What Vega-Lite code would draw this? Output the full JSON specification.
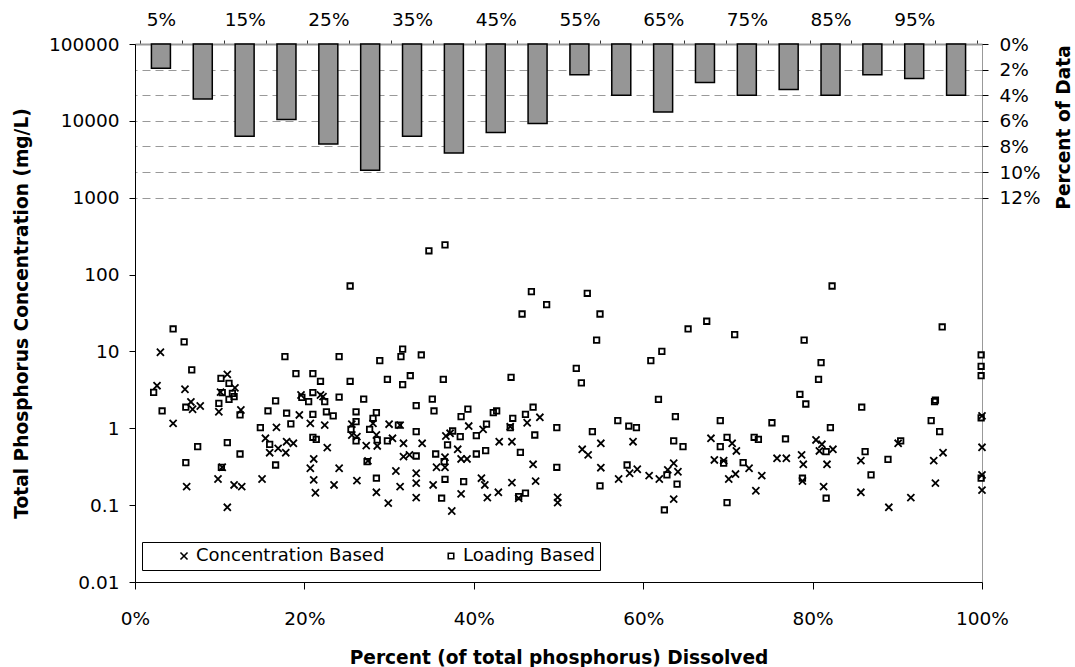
{
  "$schema": "https://vega.github.io/schema/vega-lite/v6.json",
  "width": 847,
  "height": 538,
  "autosize": {"type": "none"},
  "padding": {"left": 135, "top": 44, "right": 93, "bottom": 85},
  "background": "white",
  "config": {
    "font": "DejaVu Sans",
    "view": {"stroke": "#999", "strokeWidth": 1},
    "axis": {
      "labelFontSize": 18.5, "labelColor": "#000", "titleFontSize": 18.6, "titleFontWeight": "bold",
      "titleColor": "#000", "tickColor": "#000", "domainColor": "#000", "grid": false, "labelFont": "DejaVu Sans", "titleFont": "DejaVu Sans"
    },
    "legend": {"labelFont": "DejaVu Sans"}
  },
  "datasets": {
    "hist": [
      {"bin": 0.025, "share": 0.019}, {"bin": 0.075, "share": 0.043}, {"bin": 0.125, "share": 0.072}, {"bin": 0.175, "share": 0.059},
      {"bin": 0.225, "share": 0.078}, {"bin": 0.275, "share": 0.0985}, {"bin": 0.325, "share": 0.072}, {"bin": 0.375, "share": 0.085},
      {"bin": 0.425, "share": 0.069}, {"bin": 0.475, "share": 0.062}, {"bin": 0.525, "share": 0.024}, {"bin": 0.575, "share": 0.040},
      {"bin": 0.625, "share": 0.053}, {"bin": 0.675, "share": 0.030}, {"bin": 0.725, "share": 0.040}, {"bin": 0.775, "share": 0.0355},
      {"bin": 0.825, "share": 0.040}, {"bin": 0.875, "share": 0.024}, {"bin": 0.925, "share": 0.027}, {"bin": 0.975, "share": 0.040}
    ],
    "pts": [
      {"series": "Concentration Based", "x": 0.030, "tp": 9.75},
      {"series": "Concentration Based", "x": 0.026, "tp": 3.58},
      {"series": "Concentration Based", "x": 0.059, "tp": 3.22},
      {"series": "Concentration Based", "x": 0.066, "tp": 2.20},
      {"series": "Concentration Based", "x": 0.109, "tp": 5.04},
      {"series": "Concentration Based", "x": 0.101, "tp": 2.95},
      {"series": "Concentration Based", "x": 0.118, "tp": 3.35},
      {"series": "Concentration Based", "x": 0.196, "tp": 2.71},
      {"series": "Concentration Based", "x": 0.219, "tp": 2.71},
      {"series": "Concentration Based", "x": 0.222, "tp": 2.58},
      {"series": "Concentration Based", "x": 0.068, "tp": 1.77},
      {"series": "Concentration Based", "x": 0.077, "tp": 1.95},
      {"series": "Concentration Based", "x": 0.045, "tp": 1.16},
      {"series": "Concentration Based", "x": 0.099, "tp": 1.64},
      {"series": "Concentration Based", "x": 0.125, "tp": 1.73},
      {"series": "Concentration Based", "x": 0.061, "tp": 0.174},
      {"series": "Concentration Based", "x": 0.098, "tp": 0.219},
      {"series": "Concentration Based", "x": 0.103, "tp": 0.311},
      {"series": "Concentration Based", "x": 0.109, "tp": 0.0938},
      {"series": "Concentration Based", "x": 0.117, "tp": 0.183},
      {"series": "Concentration Based", "x": 0.126, "tp": 0.174},
      {"series": "Concentration Based", "x": 0.150, "tp": 0.219},
      {"series": "Concentration Based", "x": 0.154, "tp": 0.741},
      {"series": "Concentration Based", "x": 0.167, "tp": 1.03},
      {"series": "Concentration Based", "x": 0.159, "tp": 0.481},
      {"series": "Concentration Based", "x": 0.169, "tp": 0.549},
      {"series": "Concentration Based", "x": 0.178, "tp": 0.481},
      {"series": "Concentration Based", "x": 0.179, "tp": 0.669},
      {"series": "Concentration Based", "x": 0.187, "tp": 0.638},
      {"series": "Concentration Based", "x": 0.194, "tp": 1.49},
      {"series": "Concentration Based", "x": 0.207, "tp": 1.16},
      {"series": "Concentration Based", "x": 0.211, "tp": 0.399},
      {"series": "Concentration Based", "x": 0.207, "tp": 0.302},
      {"series": "Concentration Based", "x": 0.211, "tp": 0.213},
      {"series": "Concentration Based", "x": 0.213, "tp": 0.145},
      {"series": "Concentration Based", "x": 0.224, "tp": 1.10},
      {"series": "Concentration Based", "x": 0.227, "tp": 0.560},
      {"series": "Concentration Based", "x": 0.241, "tp": 0.302},
      {"series": "Concentration Based", "x": 0.235, "tp": 0.183},
      {"series": "Concentration Based", "x": 0.256, "tp": 1.13},
      {"series": "Concentration Based", "x": 0.256, "tp": 0.818},
      {"series": "Concentration Based", "x": 0.262, "tp": 0.778},
      {"series": "Concentration Based", "x": 0.262, "tp": 0.208},
      {"series": "Concentration Based", "x": 0.273, "tp": 0.594},
      {"series": "Concentration Based", "x": 0.275, "tp": 0.376},
      {"series": "Concentration Based", "x": 0.281, "tp": 1.16},
      {"series": "Concentration Based", "x": 0.285, "tp": 0.818},
      {"series": "Concentration Based", "x": 0.286, "tp": 0.589},
      {"series": "Concentration Based", "x": 0.285, "tp": 0.147},
      {"series": "Concentration Based", "x": 0.299, "tp": 0.106},
      {"series": "Concentration Based", "x": 0.300, "tp": 1.13},
      {"series": "Concentration Based", "x": 0.304, "tp": 0.741},
      {"series": "Concentration Based", "x": 0.308, "tp": 0.278},
      {"series": "Concentration Based", "x": 0.313, "tp": 0.174},
      {"series": "Concentration Based", "x": 0.313, "tp": 1.10},
      {"series": "Concentration Based", "x": 0.317, "tp": 0.638},
      {"series": "Concentration Based", "x": 0.317, "tp": 0.427},
      {"series": "Concentration Based", "x": 0.324, "tp": 0.450},
      {"series": "Concentration Based", "x": 0.332, "tp": 0.260},
      {"series": "Concentration Based", "x": 0.332, "tp": 0.193},
      {"series": "Concentration Based", "x": 0.332, "tp": 0.125},
      {"series": "Concentration Based", "x": 0.339, "tp": 0.638},
      {"series": "Concentration Based", "x": 0.352, "tp": 0.183},
      {"series": "Concentration Based", "x": 0.356, "tp": 0.311},
      {"series": "Concentration Based", "x": 0.366, "tp": 0.311},
      {"series": "Concentration Based", "x": 0.366, "tp": 0.420},
      {"series": "Concentration Based", "x": 0.367, "tp": 0.794},
      {"series": "Concentration Based", "x": 0.372, "tp": 0.861},
      {"series": "Concentration Based", "x": 0.374, "tp": 0.0839},
      {"series": "Concentration Based", "x": 0.381, "tp": 0.533},
      {"series": "Concentration Based", "x": 0.385, "tp": 0.399},
      {"series": "Concentration Based", "x": 0.385, "tp": 0.140},
      {"series": "Concentration Based", "x": 0.392, "tp": 0.399},
      {"series": "Concentration Based", "x": 0.394, "tp": 1.07},
      {"series": "Concentration Based", "x": 0.409, "tp": 0.224},
      {"series": "Concentration Based", "x": 0.411, "tp": 0.97},
      {"series": "Concentration Based", "x": 0.413, "tp": 0.183},
      {"series": "Concentration Based", "x": 0.416, "tp": 0.125},
      {"series": "Concentration Based", "x": 0.429, "tp": 0.147},
      {"series": "Concentration Based", "x": 0.430, "tp": 0.669},
      {"series": "Concentration Based", "x": 0.445, "tp": 0.669},
      {"series": "Concentration Based", "x": 0.445, "tp": 0.196},
      {"series": "Concentration Based", "x": 0.443, "tp": 1.05},
      {"series": "Concentration Based", "x": 0.453, "tp": 0.123},
      {"series": "Concentration Based", "x": 0.463, "tp": 1.18},
      {"series": "Concentration Based", "x": 0.470, "tp": 0.340},
      {"series": "Concentration Based", "x": 0.473, "tp": 0.205},
      {"series": "Concentration Based", "x": 0.478, "tp": 1.39},
      {"series": "Concentration Based", "x": 0.499, "tp": 0.126},
      {"series": "Concentration Based", "x": 0.499, "tp": 0.108},
      {"series": "Concentration Based", "x": 0.528, "tp": 0.533},
      {"series": "Concentration Based", "x": 0.535, "tp": 0.450},
      {"series": "Concentration Based", "x": 0.550, "tp": 0.638},
      {"series": "Concentration Based", "x": 0.550, "tp": 0.307},
      {"series": "Concentration Based", "x": 0.571, "tp": 0.219},
      {"series": "Concentration Based", "x": 0.584, "tp": 0.260},
      {"series": "Concentration Based", "x": 0.588, "tp": 0.669},
      {"series": "Concentration Based", "x": 0.593, "tp": 0.293},
      {"series": "Concentration Based", "x": 0.607, "tp": 0.242},
      {"series": "Concentration Based", "x": 0.619, "tp": 0.219},
      {"series": "Concentration Based", "x": 0.629, "tp": 0.287},
      {"series": "Concentration Based", "x": 0.636, "tp": 0.351},
      {"series": "Concentration Based", "x": 0.641, "tp": 0.272},
      {"series": "Concentration Based", "x": 0.636, "tp": 0.120},
      {"series": "Concentration Based", "x": 0.680, "tp": 0.741},
      {"series": "Concentration Based", "x": 0.705, "tp": 0.638},
      {"series": "Concentration Based", "x": 0.710, "tp": 0.507},
      {"series": "Concentration Based", "x": 0.684, "tp": 0.387},
      {"series": "Concentration Based", "x": 0.695, "tp": 0.379},
      {"series": "Concentration Based", "x": 0.701, "tp": 0.219},
      {"series": "Concentration Based", "x": 0.709, "tp": 0.254},
      {"series": "Concentration Based", "x": 0.725, "tp": 0.302},
      {"series": "Concentration Based", "x": 0.740, "tp": 0.242},
      {"series": "Concentration Based", "x": 0.733, "tp": 0.154},
      {"series": "Concentration Based", "x": 0.758, "tp": 0.407},
      {"series": "Concentration Based", "x": 0.769, "tp": 0.407},
      {"series": "Concentration Based", "x": 0.787, "tp": 0.450},
      {"series": "Concentration Based", "x": 0.789, "tp": 0.340},
      {"series": "Concentration Based", "x": 0.788, "tp": 0.206},
      {"series": "Concentration Based", "x": 0.804, "tp": 0.705},
      {"series": "Concentration Based", "x": 0.811, "tp": 0.619},
      {"series": "Concentration Based", "x": 0.808, "tp": 0.507},
      {"series": "Concentration Based", "x": 0.824, "tp": 0.533},
      {"series": "Concentration Based", "x": 0.817, "tp": 0.340},
      {"series": "Concentration Based", "x": 0.813, "tp": 0.174},
      {"series": "Concentration Based", "x": 0.857, "tp": 0.379},
      {"series": "Concentration Based", "x": 0.857, "tp": 0.147},
      {"series": "Concentration Based", "x": 0.890, "tp": 0.0938},
      {"series": "Concentration Based", "x": 0.901, "tp": 0.638},
      {"series": "Concentration Based", "x": 0.916, "tp": 0.125},
      {"series": "Concentration Based", "x": 0.943, "tp": 0.379},
      {"series": "Concentration Based", "x": 0.954, "tp": 0.481},
      {"series": "Concentration Based", "x": 0.945, "tp": 0.193},
      {"series": "Concentration Based", "x": 1.000, "tp": 1.45},
      {"series": "Concentration Based", "x": 1.000, "tp": 0.566},
      {"series": "Concentration Based", "x": 1.000, "tp": 0.247},
      {"series": "Concentration Based", "x": 1.000, "tp": 0.157},
      {"series": "Loading Based", "x": 0.045, "tp": 19.6},
      {"series": "Loading Based", "x": 0.058, "tp": 13.3},
      {"series": "Loading Based", "x": 0.067, "tp": 5.74},
      {"series": "Loading Based", "x": 0.022, "tp": 2.94},
      {"series": "Loading Based", "x": 0.111, "tp": 3.85},
      {"series": "Loading Based", "x": 0.117, "tp": 2.58},
      {"series": "Loading Based", "x": 0.177, "tp": 8.54},
      {"series": "Loading Based", "x": 0.190, "tp": 5.13},
      {"series": "Loading Based", "x": 0.210, "tp": 5.13},
      {"series": "Loading Based", "x": 0.219, "tp": 4.09},
      {"series": "Loading Based", "x": 0.241, "tp": 8.54},
      {"series": "Loading Based", "x": 0.254, "tp": 71.0},
      {"series": "Loading Based", "x": 0.254, "tp": 4.09},
      {"series": "Loading Based", "x": 0.241, "tp": 2.55},
      {"series": "Loading Based", "x": 0.270, "tp": 2.40},
      {"series": "Loading Based", "x": 0.289, "tp": 7.58},
      {"series": "Loading Based", "x": 0.314, "tp": 8.54},
      {"series": "Loading Based", "x": 0.316, "tp": 10.7},
      {"series": "Loading Based", "x": 0.298, "tp": 4.34},
      {"series": "Loading Based", "x": 0.316, "tp": 3.69},
      {"series": "Loading Based", "x": 0.325, "tp": 4.83},
      {"series": "Loading Based", "x": 0.338, "tp": 8.99},
      {"series": "Loading Based", "x": 0.347, "tp": 204},
      {"series": "Loading Based", "x": 0.366, "tp": 243},
      {"series": "Loading Based", "x": 0.351, "tp": 2.40},
      {"series": "Loading Based", "x": 0.364, "tp": 4.34},
      {"series": "Loading Based", "x": 0.444, "tp": 4.61},
      {"series": "Loading Based", "x": 0.457, "tp": 30.7},
      {"series": "Loading Based", "x": 0.468, "tp": 59.9},
      {"series": "Loading Based", "x": 0.486, "tp": 40.6},
      {"series": "Loading Based", "x": 0.166, "tp": 2.27},
      {"series": "Loading Based", "x": 0.210, "tp": 2.92},
      {"series": "Loading Based", "x": 0.1015, "tp": 4.45},
      {"series": "Loading Based", "x": 0.103, "tp": 2.92},
      {"series": "Loading Based", "x": 0.115, "tp": 2.85},
      {"series": "Loading Based", "x": 0.111, "tp": 2.38},
      {"series": "Loading Based", "x": 0.534, "tp": 57.1},
      {"series": "Loading Based", "x": 0.549, "tp": 30.7},
      {"series": "Loading Based", "x": 0.545, "tp": 14.0},
      {"series": "Loading Based", "x": 0.521, "tp": 6.03},
      {"series": "Loading Based", "x": 0.527, "tp": 3.89},
      {"series": "Loading Based", "x": 0.618, "tp": 2.38},
      {"series": "Loading Based", "x": 0.609, "tp": 7.58},
      {"series": "Loading Based", "x": 0.622, "tp": 10.0},
      {"series": "Loading Based", "x": 0.653, "tp": 19.6},
      {"series": "Loading Based", "x": 0.675, "tp": 24.7},
      {"series": "Loading Based", "x": 0.708, "tp": 16.5},
      {"series": "Loading Based", "x": 0.790, "tp": 14.0},
      {"series": "Loading Based", "x": 0.810, "tp": 7.14},
      {"series": "Loading Based", "x": 0.807, "tp": 4.34},
      {"series": "Loading Based", "x": 0.785, "tp": 2.77},
      {"series": "Loading Based", "x": 0.823, "tp": 71.0},
      {"series": "Loading Based", "x": 0.953, "tp": 20.8},
      {"series": "Loading Based", "x": 0.945, "tp": 2.33},
      {"series": "Loading Based", "x": 0.999, "tp": 8.99},
      {"series": "Loading Based", "x": 0.999, "tp": 6.41},
      {"series": "Loading Based", "x": 0.999, "tp": 4.83},
      {"series": "Loading Based", "x": 0.032, "tp": 1.68},
      {"series": "Loading Based", "x": 0.060, "tp": 1.88},
      {"series": "Loading Based", "x": 0.060, "tp": 0.357},
      {"series": "Loading Based", "x": 0.074, "tp": 0.576},
      {"series": "Loading Based", "x": 0.099, "tp": 2.11},
      {"series": "Loading Based", "x": 0.124, "tp": 1.49},
      {"series": "Loading Based", "x": 0.109, "tp": 0.650},
      {"series": "Loading Based", "x": 0.124, "tp": 0.463},
      {"series": "Loading Based", "x": 0.102, "tp": 0.311},
      {"series": "Loading Based", "x": 0.148, "tp": 1.02},
      {"series": "Loading Based", "x": 0.157, "tp": 1.68},
      {"series": "Loading Based", "x": 0.166, "tp": 0.333},
      {"series": "Loading Based", "x": 0.159, "tp": 0.619},
      {"series": "Loading Based", "x": 0.179, "tp": 1.57},
      {"series": "Loading Based", "x": 0.184, "tp": 1.14},
      {"series": "Loading Based", "x": 0.197, "tp": 2.53},
      {"series": "Loading Based", "x": 0.205, "tp": 2.22},
      {"series": "Loading Based", "x": 0.210, "tp": 1.52},
      {"series": "Loading Based", "x": 0.210, "tp": 0.764},
      {"series": "Loading Based", "x": 0.214, "tp": 0.719},
      {"series": "Loading Based", "x": 0.224, "tp": 2.22},
      {"series": "Loading Based", "x": 0.226, "tp": 1.64},
      {"series": "Loading Based", "x": 0.234, "tp": 1.45},
      {"series": "Loading Based", "x": 0.255, "tp": 0.97},
      {"series": "Loading Based", "x": 0.261, "tp": 1.64},
      {"series": "Loading Based", "x": 0.261, "tp": 1.22},
      {"series": "Loading Based", "x": 0.261, "tp": 0.684},
      {"series": "Loading Based", "x": 0.277, "tp": 0.97},
      {"series": "Loading Based", "x": 0.281, "tp": 1.35},
      {"series": "Loading Based", "x": 0.285, "tp": 1.60},
      {"series": "Loading Based", "x": 0.286, "tp": 0.705},
      {"series": "Loading Based", "x": 0.274, "tp": 0.368},
      {"series": "Loading Based", "x": 0.285, "tp": 0.224},
      {"series": "Loading Based", "x": 0.298, "tp": 0.684},
      {"series": "Loading Based", "x": 0.311, "tp": 1.10},
      {"series": "Loading Based", "x": 0.332, "tp": 1.97},
      {"series": "Loading Based", "x": 0.332, "tp": 0.903},
      {"series": "Loading Based", "x": 0.332, "tp": 0.436},
      {"series": "Loading Based", "x": 0.353, "tp": 1.68},
      {"series": "Loading Based", "x": 0.355, "tp": 0.463},
      {"series": "Loading Based", "x": 0.365, "tp": 0.368},
      {"series": "Loading Based", "x": 0.366, "tp": 0.217},
      {"series": "Loading Based", "x": 0.362, "tp": 0.123},
      {"series": "Loading Based", "x": 0.369, "tp": 0.607},
      {"series": "Loading Based", "x": 0.375, "tp": 0.922},
      {"series": "Loading Based", "x": 0.384, "tp": 0.778},
      {"series": "Loading Based", "x": 0.385, "tp": 1.42},
      {"series": "Loading Based", "x": 0.393, "tp": 1.78},
      {"series": "Loading Based", "x": 0.388, "tp": 0.202},
      {"series": "Loading Based", "x": 0.403, "tp": 0.801},
      {"series": "Loading Based", "x": 0.403, "tp": 0.463},
      {"series": "Loading Based", "x": 0.414, "tp": 0.511},
      {"series": "Loading Based", "x": 0.415, "tp": 1.13},
      {"series": "Loading Based", "x": 0.423, "tp": 1.60},
      {"series": "Loading Based", "x": 0.427, "tp": 1.68},
      {"series": "Loading Based", "x": 0.443, "tp": 1.02},
      {"series": "Loading Based", "x": 0.446, "tp": 1.35},
      {"series": "Loading Based", "x": 0.455, "tp": 0.487},
      {"series": "Loading Based", "x": 0.461, "tp": 1.52},
      {"series": "Loading Based", "x": 0.470, "tp": 1.88},
      {"series": "Loading Based", "x": 0.472, "tp": 0.818},
      {"series": "Loading Based", "x": 0.453, "tp": 0.129},
      {"series": "Loading Based", "x": 0.461, "tp": 0.143},
      {"series": "Loading Based", "x": 0.498, "tp": 1.02},
      {"series": "Loading Based", "x": 0.498, "tp": 0.311},
      {"series": "Loading Based", "x": 0.570, "tp": 1.26},
      {"series": "Loading Based", "x": 0.583, "tp": 1.07},
      {"series": "Loading Based", "x": 0.592, "tp": 1.02},
      {"series": "Loading Based", "x": 0.540, "tp": 0.903},
      {"series": "Loading Based", "x": 0.549, "tp": 0.178},
      {"series": "Loading Based", "x": 0.581, "tp": 0.333},
      {"series": "Loading Based", "x": 0.638, "tp": 1.42},
      {"series": "Loading Based", "x": 0.636, "tp": 0.684},
      {"series": "Loading Based", "x": 0.647, "tp": 0.576},
      {"series": "Loading Based", "x": 0.628, "tp": 0.247},
      {"series": "Loading Based", "x": 0.640, "tp": 0.188},
      {"series": "Loading Based", "x": 0.625, "tp": 0.0865},
      {"series": "Loading Based", "x": 0.691, "tp": 1.26},
      {"series": "Loading Based", "x": 0.699, "tp": 0.764},
      {"series": "Loading Based", "x": 0.691, "tp": 0.576},
      {"series": "Loading Based", "x": 0.695, "tp": 0.351},
      {"series": "Loading Based", "x": 0.718, "tp": 0.357},
      {"series": "Loading Based", "x": 0.699, "tp": 0.108},
      {"series": "Loading Based", "x": 0.731, "tp": 0.764},
      {"series": "Loading Based", "x": 0.736, "tp": 0.719},
      {"series": "Loading Based", "x": 0.752, "tp": 1.18},
      {"series": "Loading Based", "x": 0.768, "tp": 0.726},
      {"series": "Loading Based", "x": 0.792, "tp": 2.07},
      {"series": "Loading Based", "x": 0.821, "tp": 1.02},
      {"series": "Loading Based", "x": 0.816, "tp": 0.496},
      {"series": "Loading Based", "x": 0.788, "tp": 0.224},
      {"series": "Loading Based", "x": 0.816, "tp": 0.123},
      {"series": "Loading Based", "x": 0.858, "tp": 1.88},
      {"series": "Loading Based", "x": 0.862, "tp": 0.496},
      {"series": "Loading Based", "x": 0.869, "tp": 0.247},
      {"series": "Loading Based", "x": 0.889, "tp": 0.395},
      {"series": "Loading Based", "x": 0.904, "tp": 0.684},
      {"series": "Loading Based", "x": 0.944, "tp": 2.22},
      {"series": "Loading Based", "x": 0.940, "tp": 1.26},
      {"series": "Loading Based", "x": 0.950, "tp": 0.903},
      {"series": "Loading Based", "x": 0.999, "tp": 1.37},
      {"series": "Loading Based", "x": 0.999, "tp": 0.224}
    ]
  },
  "layer": [
    {
      "data": {"name": "hist"},
      "mark": {"type": "bar", "orient": "vertical", "width": 19, "fill": "#969696", "stroke": "#000", "strokeWidth": 1.5},
      "encoding": {
        "x": {
          "field": "bin", "type": "quantitative",
          "scale": {"domain": [0, 1], "nice": false, "zero": false},
          "axis": {
            "orient": "top", "title": null,
            "values": [0, 0.05, 0.1, 0.15, 0.2, 0.25, 0.3, 0.35, 0.4, 0.45, 0.5, 0.55, 0.6, 0.65, 0.7, 0.75, 0.8, 0.85, 0.9, 0.95, 1],
            "labelExpr": "(round(datum.value*20) % 2 == 0 && datum.value < 0.99) ? format(datum.value + 0.05, '.0%') : ''",
            "labelOffset": 21, "labelFlush": false, "labelOverlap": false, "labelPadding": 11,
            "tickSize": 4, "tickColor": "#333", "domainColor": "#999", "domainWidth": 2
          }
        },
        "y": {
          "field": "share", "type": "quantitative",
          "scale": {"domain": [0, 0.42], "reverse": true, "nice": false, "zero": true},
          "axis": {
            "orient": "right", "values": [0, 0.02, 0.04, 0.06, 0.08, 0.1, 0.12], "format": ".0%",
            "grid": true, "gridDash": [8, 5], "gridColor": "#999", "gridWidth": 1,
            "domain": false, "tickSize": 6, "labelPadding": 11, "labelFlush": false,
            "title": "Percent of Data", "titleAngle": 270, "titleX": 81, "titleY": 83,
            "titleBaseline": "middle", "titleAlign": "center"
          }
        }
      }
    },
    {
      "data": {"name": "pts"},
      "mark": {"type": "point", "filled": false, "color": "#000", "strokeWidth": 1.8, "opacity": 1},
      "encoding": {
        "x": {
          "field": "x", "type": "quantitative",
          "scale": {"domain": [0, 1], "nice": false, "zero": false},
          "axis": {
            "orient": "bottom", "values": [0, 0.2, 0.4, 0.6, 0.8, 1], "format": ".0%",
            "title": "Percent (of total phosphorus) Dissolved", "tickSize": 7, "labelPadding": 20,
            "labelFlush": false, "titleY": 75, "titleBaseline": "middle"
          }
        },
        "y": {
          "field": "tp", "type": "quantitative",
          "scale": {"type": "log", "domain": [0.01, 100000], "nice": false},
          "axis": {
            "orient": "left", "values": [0.01, 0.1, 1, 10, 100, 1000, 10000, 100000], "format": "~g",
            "title": "Total Phosphorus Concentration (mg/L)", "tickSize": 6, "labelPadding": 10,
            "labelFlush": false, "titleAngle": 270, "titleX": -114, "titleBaseline": "middle", "titleAlign": "center"
          }
        },
        "shape": {
          "field": "series", "type": "nominal",
          "scale": {"domain": ["Concentration Based", "Loading Based"], "range": ["M-1,-1L1,1M1,-1L-1,1", "square"]},
          "legend": {
            "title": null, "orient": "none", "legendX": 7, "legendY": 498, "direction": "horizontal",
            "strokeColor": "#000", "fillColor": "#fff", "padding": 5,
            "labelFontSize": 18, "labelColor": "#000", "labelLimit": 400, "symbolStrokeWidth": 1.6,
            "symbolStrokeColor": "#000", "symbolOffset": 28, "labelOffset": 3, "columnPadding": 29,
            "labelExpr": "datum.label == 'Loading Based' ? 'Loading Based\u00a0\u00a0\u00a0\u00a0' : datum.label"
          }
        },
        "size": {
          "field": "series", "type": "nominal",
          "scale": {"domain": ["Concentration Based", "Loading Based"], "range": [50, 30]}
        }
      }
    }
  ],
  "resolve": {
    "scale": {"x": "independent", "y": "independent"},
    "axis": {"x": "independent", "y": "independent"}
  }
}
